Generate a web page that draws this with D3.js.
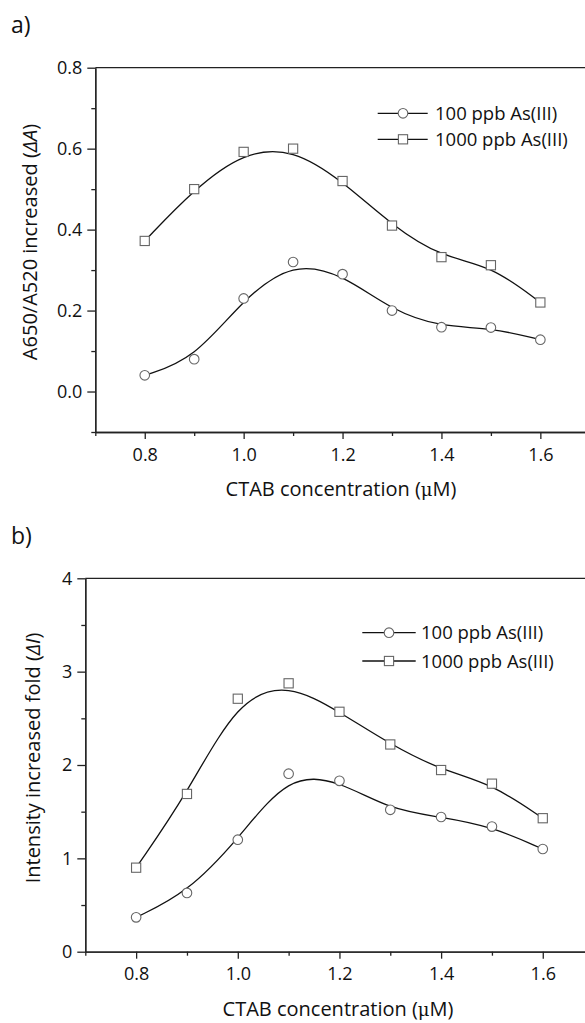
<!DOCTYPE html>
<html>
<head>
<meta charset="utf-8">
<script src="https://cdn.jsdelivr.net/npm/d3@7"></script>
<style>
  body { margin: 0; background: #fff; }
  svg { display: block; font-family: "Open Sans", sans-serif; }
  .axis path, .axis line { stroke: #222; stroke-width: 1.3; }
  .axis text { fill: #111; font-size: 18px; font-family: "Open Sans", sans-serif; }
</style>
</head>
<body>
<div id="chart"></div>
<script>
// CTAB concentration (uM)
const conc = [0.8, 0.9, 1.0, 1.1, 1.2, 1.3, 1.4, 1.5, 1.6]

// panel a: A650/A520 increase
const a100 = [0.04, 0.08, 0.23, 0.32, 0.29, 0.20, 0.159, 0.158, 0.128]
const a1000 = [0.372, 0.50, 0.592, 0.60, 0.52, 0.41, 0.332, 0.312, 0.22]

// panel b: intensity increased fold
const b100 = [0.368, 0.63, 1.20, 1.907, 1.83, 1.52, 1.443, 1.34, 1.10]
const b1000 = [0.90, 1.69, 2.71, 2.875, 2.57, 2.22, 1.946, 1.80, 1.43]

const xMajor = [0.8, 1.0, 1.2, 1.4, 1.6]
const xMinor = [0.7, 0.9, 1.1, 1.3, 1.5, 1.7]
const aMajor = [0.0, 0.2, 0.4, 0.6, 0.8]
const aMinor = [-0.1, 0.1, 0.3, 0.5, 0.7]
const bMajor = [0, 1, 2, 3, 4]
const bMinor = [0.5, 1.5, 2.5, 3.5]

const seriesNames = ["100 ppb As(III)", "1000 ppb As(III)"]

const width = 585
const height = 1023

const svg = d3.select('#chart').append('svg')
  .attr('width', width)
  .attr('height', height)

svg.append('rect').attr('width', width).attr('height', height).attr('fill', '#fff')

const panels = [
  {
    tag: 'a)', tagY: 33,
    xRange: [95.3, 589.8], yDomain: [-0.1, 0.8], yRange: [432, 67.7],
    yMajor: aMajor, yMinor: aMinor, yFmt: d3.format('.1f'),
    series: [a100, a1000],
    ylabel: ['A650/A520 increased (', 'ΔA', ')'], ylabelX: 37, ylabelY: 242,
    tickY: 461, xlabelX: 341, xlabelY: 496,
    legend: {x1: 377.7, x2: 427.7, mx: 403, tx: 435, rows: [113.3, 139.3]}
  },
  {
    tag: 'b)', tagY: 544,
    xRange: [85.3, 593.6], yDomain: [0, 4], yRange: [951.7, 578.3],
    yMajor: bMajor, yMinor: bMinor, yFmt: d3.format('d'),
    series: [b100, b1000],
    ylabel: ['Intensity increased fold (', 'ΔI', ')'], ylabelX: 40, ylabelY: 758,
    tickY: 980, xlabelX: 338, xlabelY: 1016,
    legend: {x1: 362.3, x2: 415.7, mx: 389, tx: 421, rows: [632.7, 661]}
  }
]

function marker(g, kind, cx, cy) {
  if (kind === 0) {
    g.append('circle')
      .attr('cx', cx).attr('cy', cy).attr('r', 4.8)
      .attr('fill', '#fff').attr('stroke', '#666').attr('stroke-width', 1.1)
  } else {
    g.append('rect')
      .attr('x', cx - 4.6).attr('y', cy - 4.6)
      .attr('width', 9.2).attr('height', 9.2)
      .attr('fill', '#fff').attr('stroke', '#666').attr('stroke-width', 1.1)
  }
}

panels.forEach(p => {
  const g = svg.append('g')
  const x = d3.scaleLinear().domain([0.7, 1.7]).range(p.xRange)
  const y = d3.scaleLinear().domain(p.yDomain).range(p.yRange)
  const bottom = p.yRange[0]
  const left = p.xRange[0]

  // panel tag
  g.append('text')
    .attr('x', 11).attr('y', p.tagY)
    .attr('font-size', 23).attr('fill', '#111')
    .text(p.tag)

  // top frame line
  g.append('line')
    .attr('x1', left).attr('x2', width)
    .attr('y1', p.yRange[1]).attr('y2', p.yRange[1])
    .attr('stroke', '#222').attr('stroke-width', 1.3)

  // x axis
  g.append('g').attr('class', 'axis')
    .attr('transform', `translate(0,${bottom})`)
    .call(d3.axisBottom(x).tickValues(xMinor).tickSize(4).tickSizeOuter(0).tickFormat(''))
  const xa = g.append('g').attr('class', 'axis')
    .attr('transform', `translate(0,${bottom})`)
    .call(d3.axisBottom(x).tickValues(xMajor).tickSize(7).tickSizeOuter(0).tickFormat(d3.format('.1f')))
  xa.selectAll('text').attr('y', null).attr('dy', null)
    .attr('transform', `translate(0,${p.tickY - bottom})`)

  // y axis
  g.append('g').attr('class', 'axis')
    .attr('transform', `translate(${left},0)`)
    .call(d3.axisLeft(y).tickValues(p.yMinor).tickSize(4).tickSizeOuter(0).tickFormat(''))
  g.append('g').attr('class', 'axis')
    .attr('transform', `translate(${left},0)`)
    .call(d3.axisLeft(y).tickValues(p.yMajor).tickSize(8).tickSizeOuter(0).tickPadding(5).tickFormat(p.yFmt))

  // axis titles
  const xt = g.append('text')
    .attr('x', p.xlabelX).attr('y', p.xlabelY)
    .attr('text-anchor', 'middle').attr('font-size', 20).attr('fill', '#111')
  xt.append('tspan').text('CTAB concentration (')
  xt.append('tspan').attr('font-family', '"DejaVu Serif", serif').attr('font-size', 18).text('μ')
  xt.append('tspan').text('M)')

  const yt = g.append('text')
    .attr('transform', `translate(${p.ylabelX},${p.ylabelY}) rotate(-90)`)
    .attr('text-anchor', 'middle').attr('font-size', 20).attr('fill', '#111')
  yt.append('tspan').text(p.ylabel[0])
  yt.append('tspan').attr('font-style', 'italic').text(p.ylabel[1])
  yt.append('tspan').text(p.ylabel[2])

  // curves and markers
  const line = d3.line()
    .x((d, i) => x(conc[i]))
    .y(d => y(d))
    .curve(d3.curveBasis)

  p.series.forEach((vals, k) => {
    g.append('path')
      .datum(vals)
      .attr('d', line)
      .attr('fill', 'none')
      .attr('stroke', '#111')
      .attr('stroke-width', 1.3)
    const mg = g.append('g')
    vals.forEach((v, i) => marker(mg, k, x(conc[i]), y(v)))
  })

  // legend
  const L = p.legend
  p.series.forEach((vals, k) => {
    const ly = L.rows[k]
    g.append('line')
      .attr('x1', L.x1).attr('x2', L.x2)
      .attr('y1', ly).attr('y2', ly)
      .attr('stroke', '#111').attr('stroke-width', 1.3)
    marker(g, k, L.mx, ly)
    g.append('text')
      .attr('x', L.tx).attr('y', ly + 6.5)
      .attr('font-size', 18.5).attr('fill', '#111')
      .text(seriesNames[k])
  })
})
</script>
</body>
</html>
